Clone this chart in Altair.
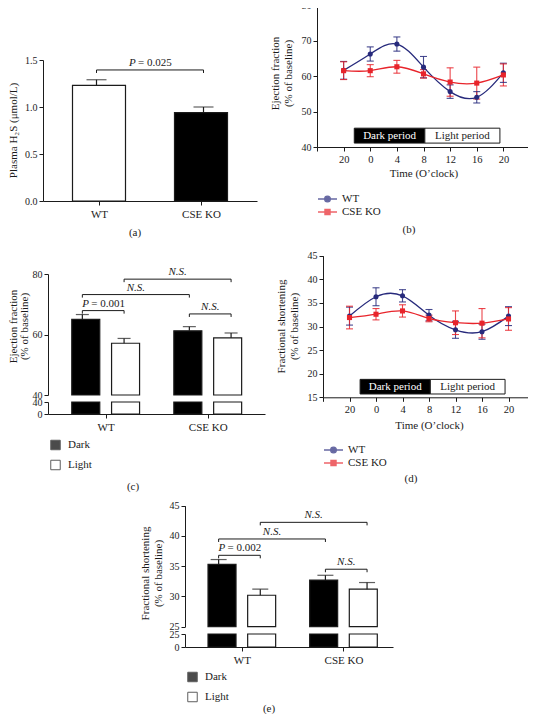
import altair as alt
import pandas as pd

FONT = "Liberation Serif"
INK = "#1b1b1b"
NAVY = "#272a7c"
RED = "#e8242b"
W, H = 520, 706

# ---------------- data ----------------
A_GROUPS = ["WT", "CSE KO"]
A_MEAN = [1.23, 0.94]
A_SEM = [0.06, 0.06]
A_BRACKETS = [("WT", "CSE KO", 1.394, "P = 0.025")]

TIME_LABELS = ["20", "0", "4", "8", "12", "16", "20"]
SERIES = ["WT", "CSE KO"]
EF_WT = [61.6, 66.2, 69.0, 62.5, 55.6, 54.0, 60.9]
EF_WT_SEM = [2.5, 2.0, 2.0, 3.0, 1.9, 1.6, 2.7]
EF_KO = [61.5, 61.5, 62.6, 60.6, 58.3, 58.0, 60.3]
EF_KO_SEM = [2.5, 1.7, 1.8, 1.2, 4.0, 4.5, 3.1]
FS_WT = [32.2, 36.3, 36.5, 32.4, 29.3, 28.9, 32.2]
FS_WT_SEM = [1.9, 1.9, 1.3, 1.2, 1.8, 1.6, 2.0]
FS_KO = [31.9, 32.6, 33.3, 31.7, 30.8, 30.7, 31.6]
FS_KO_SEM = [2.4, 1.2, 1.3, 0.7, 2.5, 3.1, 2.4]
PERIODS = ["Dark period", "Light period"]
PERIOD_EDGES = [0.4, 3.05, 5.87]

GROUPS = ["WT", "CSE KO"]
PHASES = ["Dark", "Light"]
EFB_WT = [65.0, 57.1]
EFB_WT_SEM = [1.6, 1.6]
EFB_KO = [61.2, 58.9]
EFB_KO_SEM = [1.4, 1.6]
FSB_WT = [35.3, 30.2]
FSB_WT_SEM = [0.8, 1.0]
FSB_KO = [32.7, 31.2]
FSB_KO_SEM = [0.8, 1.1]
C_BRACKETS = [
    ("WT", "Dark", "WT", "Light", 67.9, "P = 0.001"),
    ("WT", "Dark", "CSE KO", "Dark", 73.2, "N.S."),
    ("WT", "Light", "CSE KO", "Light", 78.3, "N.S."),
    ("CSE KO", "Dark", "CSE KO", "Light", 66.8, "N.S."),
]
E_BRACKETS = [
    ("WT", "Dark", "WT", "Light", 36.8, "P = 0.002"),
    ("WT", "Dark", "CSE KO", "Dark", 39.5, "N.S."),
    ("WT", "Light", "CSE KO", "Light", 42.25, "N.S."),
    ("CSE KO", "Dark", "CSE KO", "Light", 34.5, "N.S."),
]
EF_TITLE = ["Ejection fraction", "(% of baseline)"]
FS_TITLE = ["Fractional shortening", "(% of baseline)"]

# ---------------- layout helpers ----------------
OFF = {"Dark": -0.195, "Light": 0.195}


def P(v):
    return v - 8


def lin(domain, page_range, **kw):
    return alt.Scale(domain=domain, range=[P(v) for v in page_range],
                     nice=False, zero=False, **kw)


def label_expr(labels, shift=0):
    arr = ",".join("'" + s + "'" for s in labels)
    return "[" + arr + "][datum.value + " + str(shift) + "]"


def xaxis(axis_y, values, labels, shift=0, **kw):
    d = dict(orient="bottom", offset=P(axis_y) - H, values=values,
             labelExpr=label_expr(labels, shift), labelPadding=3)
    d.update(kw)
    return alt.Axis(**d)


def yaxis(axis_x, values, title=None, title_pos=None, fmt=None, lh=13):
    d = dict(orient="left", offset=-P(axis_x), values=values)
    if fmt:
        d["format"] = fmt
    if title is None:
        d["title"] = None
    else:
        nlines = len(title) if isinstance(title, list) else 1
        d.update(title=title, titleX=title_pos[0] - axis_x - lh * (nlines - 1),
                 titleY=P(title_pos[1]), titleAngle=270, titleAlign="center",
                 titleBaseline="bottom", titleLineHeight=lh)
    return alt.Axis(**d)


def bracket_layers(rows, X, Y, drop):
    df = pd.DataFrame(rows)
    df["mid"] = (df["x1"] + df["x2"]) / 2
    xs = lambda f: alt.X(f, scale=X, axis=None)
    ys = lambda f: alt.Y(f, scale=Y, axis=None)
    out = [alt.Chart(df).mark_rule(color=INK, strokeWidth=1).encode(
        x=xs("x1:Q"), x2="x2:Q", y=ys("y:Q"))]
    legs = pd.concat([df[["x1", "y"]].rename(columns={"x1": "xe"}),
                      df[["x2", "y"]].rename(columns={"x2": "xe"})], ignore_index=True)
    legs["ylow"] = legs["y"] - drop
    out.append(alt.Chart(legs).mark_rule(color=INK, strokeWidth=1).encode(
        x=xs("xe:Q"), y=ys("y:Q"), y2="ylow:Q"))
    ns = df[df["label"] == "N.S."]
    if len(ns):
        out.append(alt.Chart(ns).mark_text(fontStyle="italic", fontSize=11, baseline="bottom",
                                           dy=-2, color=INK).encode(
            x=xs("mid:Q"), y=ys("y:Q"), text="label:N"))
    pv = df[df["label"] != "N.S."].copy()
    if len(pv):
        pv["p"] = pv["label"].str.split(" ", n=1).str[0]
        pv["rest"] = pv["label"].str.split(" ", n=1).str[1]
        out.append(alt.Chart(pv).mark_text(fontStyle="italic", fontSize=11, align="left",
                                           baseline="bottom", dx=-21, dy=-2, color=INK).encode(
            x=xs("mid:Q"), y=ys("y:Q"), text="p:N"))
        out.append(alt.Chart(pv).mark_text(fontSize=11, align="left", baseline="bottom",
                                           dx=-12, dy=-2, color=INK).encode(
            x=xs("mid:Q"), y=ys("y:Q"), text="rest:N"))
    return out


def panel_a():
    X = lin([-0.5, 1.5], [43, 257])
    Y = lin([0, 1.5], [201, 60])
    df = pd.DataFrame({"group": A_GROUPS, "pos": list(range(len(A_GROUPS))),
                       "mean": A_MEAN, "sem": A_SEM})
    df["top"] = df["mean"] + df["sem"]
    xa = xaxis(201, [0, 1], A_GROUPS, title=None, labelFontSize=11)
    ya = yaxis(43, [0, 0.5, 1.0, 1.5], "Plasma H₂S (μmol/L)", (18, 130), fmt=".1f")
    bars = alt.Chart(df).mark_bar(size=53, stroke=INK, strokeWidth=1.2).encode(
        x=alt.X("pos:Q", scale=X, axis=xa), y=alt.Y("mean:Q", scale=Y, axis=ya),
        y2=alt.datum(0),
        fill=alt.Fill("group:N", scale=alt.Scale(domain=A_GROUPS, range=["white", "black"]),
                      legend=None))
    err = alt.Chart(df).mark_rule(color=INK, strokeWidth=1.2).encode(
        x=alt.X("pos:Q", scale=X, axis=None), y=alt.Y("mean:Q", scale=Y, axis=None),
        y2="top:Q")
    cap = alt.Chart(df).mark_tick(orient="horizontal", size=20, thickness=1.2, color=INK).encode(
        x=alt.X("pos:Q", scale=X, axis=None), y=alt.Y("top:Q", scale=Y, axis=None))
    rows = [{"x1": A_GROUPS.index(a), "x2": A_GROUPS.index(b), "y": y, "label": l}
            for a, b, y, l in A_BRACKETS]
    return [bars, err, cap] + bracket_layers(rows, X, Y, 0.032)


def time_panel(wt, wt_sem, ko, ko_sem, X, Y, x_axis_y, y_axis_x, yvals, ytitle,
               ytitle_pos, xtitle_dy, box_y):
    rows = []
    for s, means, sems in ((SERIES[0], wt, wt_sem), (SERIES[1], ko, ko_sem)):
        for i, (m, e) in enumerate(zip(means, sems)):
            rows.append({"series": s, "slot": i, "mean": m, "lo": m - e, "hi": m + e})
    df = pd.DataFrame(rows)
    per = pd.DataFrame({"period": PERIODS, "start": PERIOD_EDGES[:-1],
                        "end": PERIOD_EDGES[1:]})
    per["mid"] = (per["start"] + per["end"]) / 2
    per["ylo"], per["yhi"] = box_y
    per["ymid"] = (per["ylo"] + per["yhi"]) / 2
    col = alt.Color("series:N", scale=alt.Scale(domain=SERIES, range=[NAVY, RED]), legend=None)
    xa = xaxis(x_axis_y, list(range(-1, 8)), [""] + TIME_LABELS + [""], shift=1,
               title="Time (O’clock)", titleY=xtitle_dy, titleBaseline="middle",
               labelFontSize=10.5)
    ya = yaxis(y_axis_x, yvals, ytitle, ytitle_pos)
    xs = lambda f: alt.X(f, scale=X, axis=None)
    ys = lambda f: alt.Y(f, scale=Y, axis=None)
    box = alt.Chart(per).mark_rect(stroke=INK, strokeWidth=1).encode(
        x=alt.X("start:Q", scale=X, axis=xa), x2="end:Q",
        y=alt.Y("yhi:Q", scale=Y, axis=ya), y2="ylo:Q",
        fill=alt.Fill("period:N", scale=alt.Scale(domain=PERIODS, range=["black", "white"]),
                      legend=None))
    box_txt = alt.Chart(per).mark_text(fontSize=11, baseline="middle").encode(
        x=xs("mid:Q"), y=ys("ymid:Q"), text="period:N",
        color=alt.condition(alt.datum.period == PERIODS[0], alt.value("white"), alt.value(INK)))
    err = alt.Chart(df).mark_rule(strokeWidth=1.1, opacity=0.85).encode(
        x=xs("slot:Q"), y=ys("lo:Q"), y2="hi:Q", color=col)
    cap_lo = alt.Chart(df).mark_tick(orient="horizontal", size=7, thickness=1.1, opacity=0.85).encode(
        x=xs("slot:Q"), y=ys("lo:Q"), color=col)
    cap_hi = alt.Chart(df).mark_tick(orient="horizontal", size=7, thickness=1.1, opacity=0.85).encode(
        x=xs("slot:Q"), y=ys("hi:Q"), color=col)
    line = alt.Chart(df).mark_line(interpolate="natural", strokeWidth=1.3).encode(
        x=xs("slot:Q"), y=ys("mean:Q"), color=col)
    pts = alt.Chart(df).mark_point(filled=True, size=26, opacity=1).encode(
        x=xs("slot:Q"), y=ys("mean:Q"), color=col,
        shape=alt.Shape("series:N", scale=alt.Scale(domain=SERIES, range=["circle", "square"]),
                        legend=None))
    return [box, box_txt, err, cap_lo, cap_hi, line, pts]


def bar_panel(wt, wt_sem, ko, ko_sem, brackets, X, YU, YL, base, x_axis_y, y_axis_x,
              yvals_u, yvals_l, ytitle, ytitle_pos, cap, drop, lh=13):
    rows = []
    for gi, (g, means, sems) in enumerate(((GROUPS[0], wt, wt_sem), (GROUPS[1], ko, ko_sem))):
        for ph, m, e in zip(PHASES, means, sems):
            rows.append({"group": g, "phase": ph, "pos": gi + OFF[ph], "mean": m, "top": m + e})
    df = pd.DataFrame(rows)
    fill = alt.Fill("phase:N", scale=alt.Scale(domain=PHASES, range=["black", "white"]),
                    legend=None)
    up_bars = alt.Chart(df).mark_bar(size=28, stroke=INK, strokeWidth=1.2).encode(
        x=alt.X("pos:Q", scale=X, axis=None),
        y=alt.Y("mean:Q", scale=YU,
                axis=yaxis(y_axis_x, yvals_u, ytitle, ytitle_pos, lh=lh)),
        y2=alt.datum(base), fill=fill)
    err = alt.Chart(df).mark_rule(color=INK, strokeWidth=1.2).encode(
        x=alt.X("pos:Q", scale=X, axis=None), y=alt.Y("mean:Q", scale=YU, axis=None),
        y2="top:Q")
    caps = alt.Chart(df).mark_tick(orient="horizontal", size=cap, thickness=1.2, color=INK).encode(
        x=alt.X("pos:Q", scale=X, axis=None), y=alt.Y("top:Q", scale=YU, axis=None))
    brows = [{"x1": GROUPS.index(g1) + OFF[p1], "x2": GROUPS.index(g2) + OFF[p2], "y": y,
              "label": l} for g1, p1, g2, p2, y, l in brackets]
    low_bars = alt.Chart(df).mark_bar(size=28, stroke=INK, strokeWidth=1.2).encode(
        x=alt.X("pos:Q", scale=X,
                axis=xaxis(x_axis_y, [0, 1], GROUPS, title=None, labelFontSize=11)),
        y=alt.Y("mean:Q", scale=YL, axis=yaxis(y_axis_x, yvals_l)),
        y2=alt.datum(0), fill=fill)
    return [up_bars, err, caps] + bracket_layers(brows, X, YU, drop) + [low_bars]


CIRCLE_PATH = "M-1,0L1,0M0.3,0A0.3,0.3,0,1,1,-0.3,0A0.3,0.3,0,1,1,0.3,0Z"
SQUARE_PATH = "M-1,0L1,0M-0.27,-0.27L0.27,-0.27L0.27,0.27L-0.27,0.27Z"


def line_legend(name, color, path, lx, ly):
    df = pd.DataFrame({"series": [name]})
    return alt.Chart(df).mark_point(filled=True).encode(
        color=alt.Color("series:N", scale=alt.Scale(domain=[name], range=[color]),
                        legend=alt.Legend(orient="none", legendX=P(lx), legendY=P(ly),
                                          title=None, symbolType=path, symbolSize=361,
                                          symbolStrokeColor=color, symbolStrokeWidth=1.3,
                                          labelFontSize=11, labelOffset=4, padding=0))
    ).transform_filter("false")


def phase_legend(lx, ly):
    df = pd.DataFrame({"phase": PHASES})
    return alt.Chart(df).mark_point(filled=True, shape="square").encode(
        fill=alt.Fill("phase:N", scale=alt.Scale(domain=PHASES, range=["black", "white"]),
                      legend=alt.Legend(orient="none", legendX=P(lx), legendY=P(ly),
                                        title=None, symbolType="square", symbolSize=90,
                                        symbolStrokeColor=INK, symbolStrokeWidth=1,
                                        labelFontSize=11, labelOffset=7, rowPadding=5,
                                        padding=0))
    ).transform_filter("false")


def panel_label(text, x, y):
    return alt.Chart(pd.DataFrame({"t": [text]})).mark_text(fontSize=11, color=INK).encode(
        x=alt.value(P(x)), y=alt.value(P(y)), text="t:N")


layers = panel_a()
layers += time_panel(EF_WT, EF_WT_SEM, EF_KO, EF_KO_SEM,
                     lin([-1, 7], [317, 530]), lin([40, 80], [147, 5]),
                     147, 317, [40, 50, 60, 70, 80], EF_TITLE, (293.5, 73), 26,
                     (41.1, 45.3))
layers += time_panel(FS_WT, FS_WT_SEM, FS_KO, FS_KO_SEM,
                     lin([-1, 7], [323, 535]), lin([15, 45], [397.3, 255.7]),
                     397.3, 323, [15, 20, 25, 30, 35, 40, 45], FS_TITLE, (299.5, 326), 28.4,
                     (15.7, 18.8))
layers += bar_panel(EFB_WT, EFB_WT_SEM, EFB_KO, EFB_KO_SEM, C_BRACKETS,
                    lin([-0.516, 1.512], [48, 265]), lin([40, 80], [395, 274]),
                    lin([0, 40], [414, 402], clamp=True), 40, 414, 48,
                    [40, 60, 80], [0, 40], EF_TITLE, (29.5, 326), 13, 1.0, lh=11)
layers += bar_panel(FSB_WT, FSB_WT_SEM, FSB_KO, FSB_KO_SEM, E_BRACKETS,
                    lin([-0.51, 1.438], [185, 393]), lin([25, 45], [626.7, 505.7]),
                    lin([0, 25], [647, 634], clamp=True), 25, 647, 185,
                    [25, 30, 35, 40, 45], [0, 25], FS_TITLE, (163.5, 573), 16, 0.5)
layers += [
    line_legend(SERIES[0], NAVY, CIRCLE_PATH, 317, 188.5),
    line_legend(SERIES[1], RED, SQUARE_PATH, 317, 201.5),
    line_legend(SERIES[0], NAVY, CIRCLE_PATH, 323, 439.5),
    line_legend(SERIES[1], RED, SQUARE_PATH, 323, 452.5),
    phase_legend(50, 439.5),
    phase_legend(187, 671.5),
    panel_label("(a)", 135, 233),
    panel_label("(b)", 409, 230),
    panel_label("(c)", 133, 487),
    panel_label("(d)", 411, 479),
    panel_label("(e)", 269, 709),
]

chart = (
    alt.layer(*layers)
    .resolve_scale(x="independent", y="independent", color="independent",
                   fill="independent", shape="independent")
    .properties(width=W, height=H, padding=0, autosize=alt.AutoSizeParams(type="none"),
                background="white")
    .configure(font=FONT)
    .configure_view(stroke=None)
    .configure_axis(labelFont=FONT, titleFont=FONT, labelFontSize=10, titleFontSize=11,
                    titleFontWeight="normal", labelColor=INK, titleColor=INK,
                    domainColor=INK, tickColor=INK, tickSize=4, tickWidth=1, domainWidth=1,
                    grid=False, labelPadding=2)
    .configure_text(font=FONT, color=INK)
    .configure_legend(labelFont=FONT, labelColor=INK)
)

chart.save("out.html", embed_options={"renderer": "svg", "actions": False})
